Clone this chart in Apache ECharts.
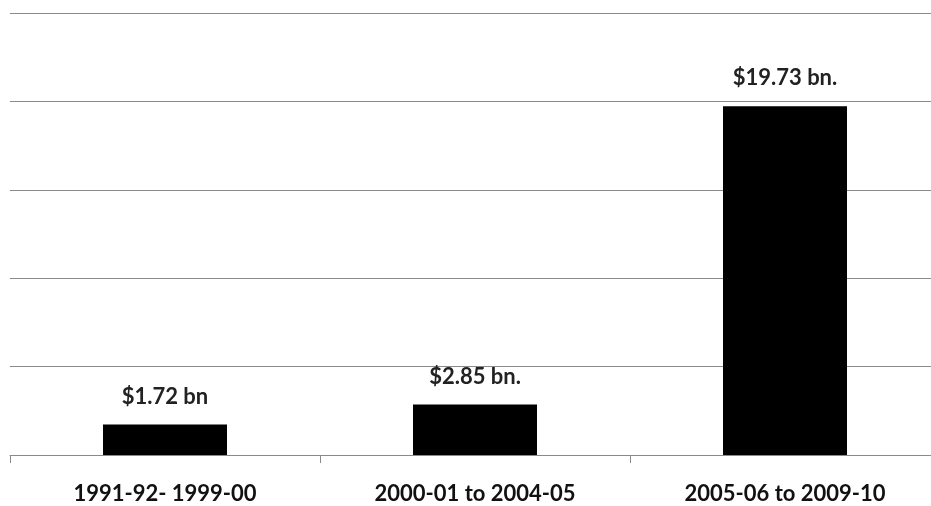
<!DOCTYPE html>
<html><head><meta charset="utf-8">
<script src="https://cdn.jsdelivr.net/npm/echarts@6/dist/echarts.min.js"></script>
<style>html,body{margin:0;padding:0;background:#fff;overflow:hidden;width:931px;height:506px}#c{width:940px;height:506px}</style>
</head><body><div id="c"></div>
<script>
const categories = ['1991-92- 1999-00', '2000-01 to 2004-05', '2005-06 to 2009-10'];
const values = [1.72, 2.85, 19.73];
const valueLabels = ['$1.72 bn', '$2.85 bn.', '$19.73 bn.'];
const yTicks = [0, 5, 10, 15, 20, 25];

const chart = echarts.init(document.getElementById('c'));
chart.setOption({
  animation: false,
  backgroundColor: '#fff',
  grid: { left: 10, top: 13, right: 0, bottom: 51, containLabel: false },
  xAxis: {
    type: 'category',
    data: categories,
    axisLine: { show: true, lineStyle: { color: '#8a8a8a', width: 1 } },
    axisTick: { show: true, length: 8, lineStyle: { color: '#8a8a8a' } },
    axisLabel: { margin: 28, color: '#111', fontFamily: 'Lato', fontWeight: 'bold', fontSize: 22 }
  },
  yAxis: {
    type: 'value',
    min: yTicks[0], max: yTicks[yTicks.length - 1], interval: 5,
    axisLine: { show: false }, axisTick: { show: false }, axisLabel: { show: false },
    splitLine: { show: true, lineStyle: { color: '#8a8a8a', width: 1 } }
  },
  series: [{
    type: 'bar',
    data: values,
    barWidth: 124,
    itemStyle: { color: '#000' },
    label: {
      show: true, position: 'top', distance: 17,
      formatter: p => valueLabels[p.dataIndex],
      color: '#222', fontFamily: 'Lato', fontWeight: 'bold', fontSize: 22
    }
  }]
});
</script></body></html>
